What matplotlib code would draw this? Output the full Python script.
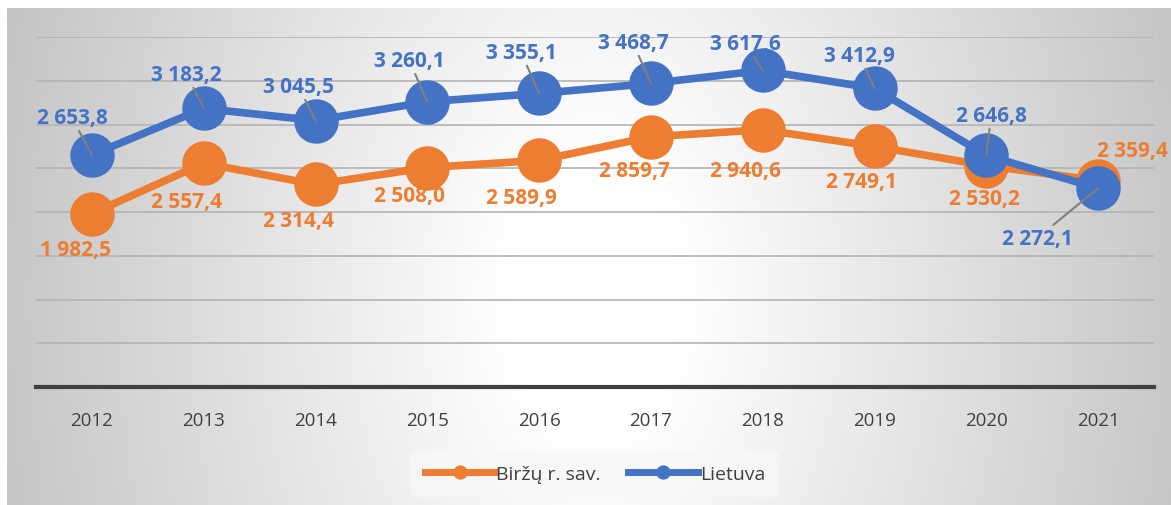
import matplotlib
matplotlib.use("Agg")
import matplotlib.pyplot as plt
import numpy as np

years = ["2012", "2013", "2014", "2015", "2016", "2017", "2018", "2019", "2020", "2021"]
birzai = [1982.5, 2557.4, 2314.4, 2508.0, 2589.9, 2859.7, 2940.6, 2749.1, 2530.2, 2359.4]
lietuva = [2653.8, 3183.2, 3045.5, 3260.1, 3355.1, 3468.7, 3617.6, 3412.9, 2646.8, 2272.1]

# label offsets in pixels (dx, dy) from the point
birzai_off = [(-16, -36), (-17, -38), (-17, -36), (-18, -28), (-18, -37),
              (-16, -34), (-17, -41), (-13, -35), (-2, -33), (34, 30)]
lietuva_off = [(-20, 37), (-17, 34), (-17, 34), (-18, 41), (-18, 41),
               (-18, 41), (-17, 27), (-15, 33), (5, 40), (-61, -50)]

ORANGE = "#ED7D31"
BLUE = "#4472C4"
TXT = "#404040"

plt.rcParams["font.family"] = ["Open Sans", "DejaVu Sans"]

W, H = 1171, 506
fig = plt.figure(figsize=(W / 100, H / 100), dpi=100)
fig.patch.set_facecolor("white")

# radial gradient background (white in the middle, grey towards the sides)
bg = fig.add_axes([7 / W, 0, (W - 7) / W, (H - 9) / H])
bg.set_axis_off()
xx, yy = np.meshgrid(np.arange(7, W), np.arange(9, H))
r = np.sqrt(((xx - 595) / 590.0) ** 2 + ((yy - 300) / 900.0) ** 2)
g = 1 - 0.22 * np.clip((r - 0.15) / 0.85, 0, 1.2)
bg.imshow(np.dstack([g, g, g]), aspect="auto", interpolation="bilinear")

ax = fig.add_axes([36 / W, (H - 388) / H, 1118 / W, 350 / H])
ax.set_facecolor("none")
x = np.arange(len(years))
ax.set_xlim(-0.5, len(years) - 0.5)
ax.set_ylim(0, 4000)
ax.set_yticks(np.arange(500, 4001, 500))
ax.yaxis.grid(True, color="#b3b3b3", lw=1.2)
ax.set_axisbelow(True)
ax.tick_params(axis="y", left=False, labelleft=False)
ax.tick_params(axis="x", length=0, pad=17, labelsize=13.5, labelcolor=TXT)
ax.set_xticks(x)
ax.set_xticklabels(years)
for s in ["top", "right", "left"]:
    ax.spines[s].set_visible(False)
ax.spines["bottom"].set_color("#404040")
ax.spines["bottom"].set_linewidth(3)

ax.plot(x, birzai, color=ORANGE, lw=5.5, marker="o", ms=31, label="Biržų r. sav.", zorder=3)
ax.plot(x, lietuva, color=BLUE, lw=5.5, marker="o", ms=31, label="Lietuva", zorder=4)


def fmt(v):
    return f"{v:,.1f}".replace(",", " ").replace(".", ",")


for i, v in enumerate(birzai):
    ax.annotate(fmt(v), (x[i], v), xytext=birzai_off[i], textcoords="offset pixels",
                ha="center", va="center", color=ORANGE, fontsize=15, fontweight="bold",
                zorder=6)
for i, v in enumerate(lietuva):
    ax.annotate(fmt(v), (x[i], v), xytext=lietuva_off[i], textcoords="offset pixels",
                ha="center", va="center", color=BLUE, fontsize=15, fontweight="bold",
                zorder=6,
                arrowprops=dict(arrowstyle="-", color="#7f7f7f", lw=1.5,
                                shrinkA=0, shrinkB=0))

h, l = ax.get_legend_handles_labels()
leg = fig.legend(h, l, loc="center", bbox_to_anchor=(595 / W, 1 - 475 / H), ncol=2,
                 frameon=True, fontsize=14, handlelength=3.6, columnspacing=1.4,
                 borderpad=0.7, handletextpad=0.1, markerscale=0.3)
leg.get_frame().set_facecolor("#f7f7f7")
leg.get_frame().set_edgecolor("none")
leg.get_frame().set_boxstyle("square", pad=0)
for t in leg.get_texts():
    t.set_color(TXT)
for ln in leg.get_lines():
    ln.set_linewidth(5)

fig.savefig("out.png", dpi=100)
